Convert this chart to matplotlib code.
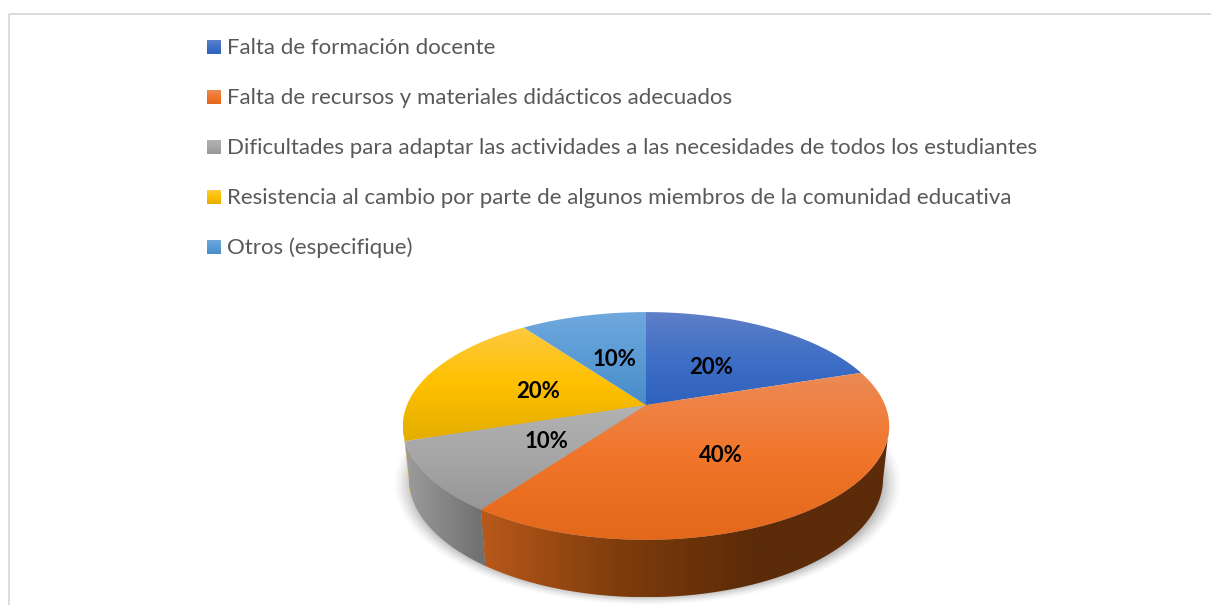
import numpy as np
import matplotlib
matplotlib.use('Agg')
import matplotlib.pyplot as plt
from matplotlib.colors import LinearSegmentedColormap
from matplotlib.patches import Polygon, Rectangle

# datos del grafico
categorias = [
    'Falta de formación docente',
    'Falta de recursos y materiales didácticos adecuados',
    'Dificultades para adaptar las actividades a las necesidades de todos los estudiantes',
    'Resistencia al cambio por parte de algunos miembros de la comunidad educativa',
    'Otros (especifique)',
]
valores = [20, 40, 10, 20, 10]

# degradados: arriba -> abajo en la cara superior, izquierda -> derecha en el lateral
colores_top = [
    ['#5f7fc8', '#3f6fc6', '#2f62bd'],
    ['#ec8a55', '#f1752a', '#e4681a'],
    ['#b2b2b2', '#a6a6a6', '#979797'],
    ['#fdc93f', '#ffc000', '#e3ae00'],
    ['#6fa8dd', '#5b9bd5', '#468cc9'],
]
colores_lado = [
    ['#2a4a86', '#1f3864'],
    ['#b8591a', '#7e3c0c', '#5c2b09', '#5c2b09'],
    ['#9c9c9c', '#6e6e6e'],
    ['#c79a00', '#b08800'],
    ['#3f6f9c', '#2f5878'],
]
etiquetas_pos = [(711, 367), (721, 455), (546, 441), (538, 392), (614, 360)]

# geometria de la tarta en pixeles
cx, cy = 646, 405
R, H, k = 239, 110, 0.184
esc_base, d0, q = 0.975, 52, 1.04

plt.rcParams['font.family'] = ['Lato', 'DejaVu Sans']

fig = plt.figure(figsize=(12.11, 6.05), dpi=100)
ax = fig.add_axes([0, 0, 1, 1])


def borde(theta):
    # circulo visto en perspectiva, theta desde arriba en sentido horario
    x, y = np.sin(theta), np.cos(theta)
    f = 1 / (1 + k * y)
    return cx + R * x * f, cy - H * y * f


def base(theta):
    sx, sy = borde(theta)
    return cx + (sx - cx) * esc_base, cy + d0 + (sy - cy) * q


def degradado(poly, colores, vertical=True, z=2):
    xs, ys = poly[:, 0], poly[:, 1]
    cmap = LinearSegmentedColormap.from_list('g', colores)
    g = np.linspace(0, 1, 256)
    g = g[:, None] if vertical else g[None, :]
    im = ax.imshow(g, cmap=cmap, aspect='auto', interpolation='bilinear', zorder=z,
                   extent=[xs.min(), xs.max(), ys.max(), ys.min()])
    im.set_clip_path(Polygon(poly, closed=True, transform=ax.transData))


# sombra difusa
xx, yy = np.meshgrid(np.arange(380, 915), np.arange(400, 606))
r = np.hypot((xx - 647) / 255, (yy - 483) / 122)
sombra = np.zeros(xx.shape + (4,))
sombra[..., :3] = 0.35
sombra[..., 3] = np.clip((1 - r) / 0.09, 0, 1) ** 1.5 * 0.5
ax.imshow(sombra, extent=[380, 915, 606, 400], aspect='auto', zorder=1)

# angulos de cada porcion
acum = np.cumsum([0] + valores) / sum(valores) * 2 * np.pi

# lateral, solo la parte que mira al frente
for i in range(len(valores)):
    t = np.linspace(acum[i], acum[i + 1], 300)
    vis = np.cos(t) < -k
    if not vis.any():
        continue
    t = t[vis]
    x1, y1 = borde(t)
    x2, y2 = base(t)
    poly = np.column_stack([np.r_[x1, x2[::-1]], np.r_[y1, y2[::-1]]])
    degradado(poly, colores_lado[i], vertical=False, z=2)

# cara superior
for i in range(len(valores)):
    t = np.linspace(acum[i], acum[i + 1], 200)
    x1, y1 = borde(t)
    poly = np.column_stack([np.r_[cx, x1], np.r_[cy, y1]])
    degradado(poly, colores_top[i], z=3)
    ax.text(etiquetas_pos[i][0], etiquetas_pos[i][1], f'{valores[i]}%', fontsize=16, fontweight='bold',
            color='black', ha='center', va='center', zorder=5)

# leyenda
for i, nombre in enumerate(categorias):
    y = 47 + 50 * i
    caja = np.array([[207, y - 7], [221, y - 7], [221, y + 7], [207, y + 7]], dtype=float)
    degradado(caja, colores_top[i], z=3)
    ax.text(227, y + 1, nombre, fontsize=16, color='#595959', ha='left', va='center', zorder=5)

# marco del grafico
ax.add_patch(Rectangle((8.5, 13.5), 1300, 700, fill=False, edgecolor='#d9d9d9', linewidth=1.3, zorder=6))

ax.set_xlim(0, 1211)
ax.set_ylim(605, 0)
ax.axis('off')

fig.savefig('out.png', dpi=100, facecolor='white')
